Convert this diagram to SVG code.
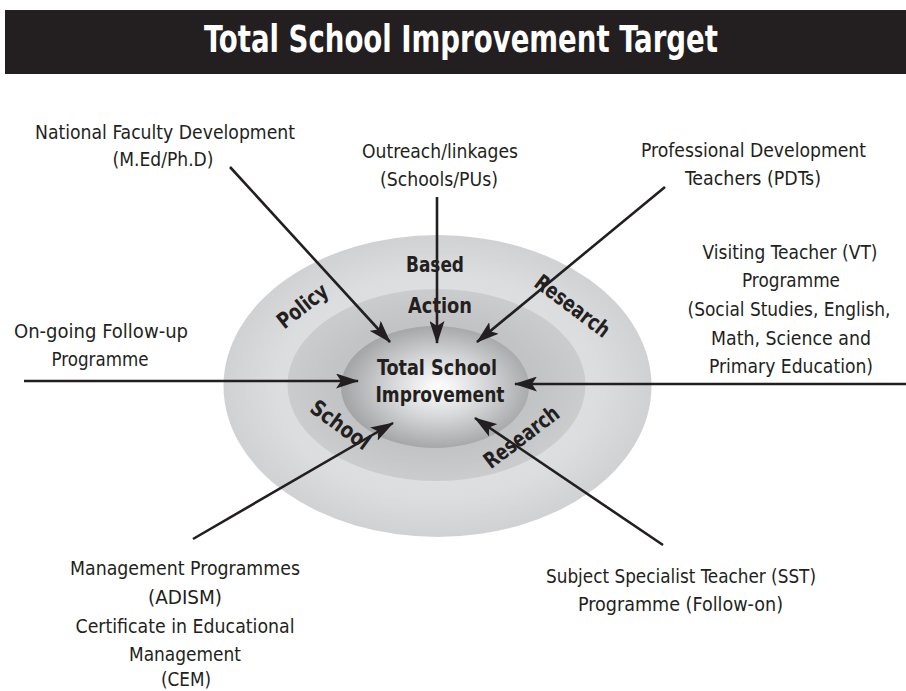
<svg xmlns="http://www.w3.org/2000/svg" width="906" height="691" viewBox="0 0 906 691">
<style>
.lbl{font-family:"Liberation Sans Narrow","DejaVu Sans Condensed","Liberation Sans",sans-serif;font-size:20px;fill:#231f20;text-anchor:middle}
.ring{font-family:"Liberation Sans Narrow","DejaVu Sans Condensed","Liberation Sans",sans-serif;font-weight:bold;font-size:22px;fill:#231f20;text-anchor:middle}
.title{font-family:"Liberation Sans Narrow","DejaVu Sans Condensed","Liberation Sans",sans-serif;font-weight:bold;font-size:37px;fill:#ffffff;text-anchor:middle}
.conn line{stroke:#231f20;stroke-width:2.6;marker-end:url(#ah)}
</style>
<defs>
<marker id="ah" markerUnits="userSpaceOnUse" viewBox="0 0 23 15" markerWidth="23" markerHeight="15" refX="22" refY="7.5" orient="auto">
<path d="M0,0 L23,7.5 L0,15 L5,7.5 z" fill="#231f20"/>
</marker>
<radialGradient id="gOuter" cx="0.5" cy="0.5" r="0.5">
<stop offset="0" stop-color="#e6e7e8"/>
<stop offset="0.75" stop-color="#dcdddf"/>
<stop offset="1" stop-color="#d0d1d3"/>
</radialGradient>
<radialGradient id="gMid" cx="0.5" cy="0.5" r="0.5">
<stop offset="0" stop-color="#b8b9bb"/>
<stop offset="0.7" stop-color="#c3c4c6"/>
<stop offset="1" stop-color="#cbccce"/>
</radialGradient>
<radialGradient id="gIn" cx="0.52" cy="0.5" r="0.55">
<stop offset="0" stop-color="#ffffff"/>
<stop offset="0.45" stop-color="#d6d7d8"/>
<stop offset="1" stop-color="#9d9ea0"/>
</radialGradient>
</defs>
<rect width="906" height="691" fill="#ffffff"/>
<g id="header">
<rect x="5" y="10" width="901" height="64" fill="#231f20"/>
<text class="title" x="461" y="52" textLength="514" lengthAdjust="spacingAndGlyphs">Total School Improvement Target</text>
</g>
<g id="target">
<ellipse cx="437.5" cy="386" rx="214" ry="151" fill="url(#gOuter)"/>
<ellipse cx="436.5" cy="385" rx="149" ry="96" fill="url(#gMid)"/>
<ellipse cx="435" cy="387" rx="94" ry="61" fill="url(#gIn)"/>
<text class="ring" x="435" y="272" textLength="58" lengthAdjust="spacingAndGlyphs">Based</text>
<text class="ring" x="440" y="313" textLength="64" lengthAdjust="spacingAndGlyphs">Action</text>
<text class="ring" transform="translate(307,312) rotate(-38)" textLength="58" lengthAdjust="spacingAndGlyphs">Policy</text>
<text class="ring" transform="translate(568,312) rotate(37)" textLength="88" lengthAdjust="spacingAndGlyphs">Research</text>
<text class="ring" transform="translate(526,443) rotate(-37)" textLength="88" lengthAdjust="spacingAndGlyphs">Research</text>
<text class="ring" transform="translate(336,431) rotate(36)" textLength="68" lengthAdjust="spacingAndGlyphs">School</text>
</g>
<g id="center">
<text class="ring" x="437" y="375" textLength="120" lengthAdjust="spacingAndGlyphs">Total School</text>
<text class="ring" x="440" y="402" textLength="129" lengthAdjust="spacingAndGlyphs">Improvement</text>
</g>
<g id="conn" class="conn">
<line x1="230" y1="167" x2="390" y2="342"/>
<line x1="437" y1="197" x2="437" y2="343"/>
<line x1="665" y1="187" x2="477" y2="342"/>
<line x1="24" y1="381" x2="358" y2="381"/>
<line x1="906" y1="384" x2="515" y2="384"/>
<line x1="193" y1="539" x2="393" y2="423"/>
<line x1="663" y1="545" x2="475" y2="418"/>
</g>
<g id="nfd">
<text class="lbl" x="165" y="139" textLength="260" lengthAdjust="spacingAndGlyphs">National Faculty Development</text>
<text class="lbl" x="163" y="166" textLength="101" lengthAdjust="spacingAndGlyphs">(M.Ed/Ph.D)</text>
</g>
<g id="outreach">
<text class="lbl" x="440" y="158" textLength="156" lengthAdjust="spacingAndGlyphs">Outreach/linkages</text>
<text class="lbl" x="439" y="186" textLength="118" lengthAdjust="spacingAndGlyphs">(Schools/PUs)</text>
</g>
<g id="pdt">
<text class="lbl" x="753.5" y="157" textLength="225" lengthAdjust="spacingAndGlyphs">Professional Development</text>
<text class="lbl" x="753" y="185" textLength="136" lengthAdjust="spacingAndGlyphs">Teachers (PDTs)</text>
</g>
<g id="vt">
<text class="lbl" x="790" y="259" textLength="175" lengthAdjust="spacingAndGlyphs">Visiting Teacher (VT)</text>
<text class="lbl" x="791" y="287" textLength="98" lengthAdjust="spacingAndGlyphs">Programme</text>
<text class="lbl" x="789" y="316" textLength="203" lengthAdjust="spacingAndGlyphs">(Social Studies, English,</text>
<text class="lbl" x="791" y="345" textLength="160" lengthAdjust="spacingAndGlyphs">Math, Science and</text>
<text class="lbl" x="791" y="373" textLength="164" lengthAdjust="spacingAndGlyphs">Primary Education)</text>
</g>
<g id="ongoing">
<text class="lbl" x="101" y="338" textLength="174" lengthAdjust="spacingAndGlyphs">On-going Follow-up</text>
<text class="lbl" x="100" y="366" textLength="97" lengthAdjust="spacingAndGlyphs">Programme</text>
</g>
<g id="mgmt">
<text class="lbl" x="185" y="575" textLength="230" lengthAdjust="spacingAndGlyphs">Management Programmes</text>
<text class="lbl" x="185" y="604" textLength="74" lengthAdjust="spacingAndGlyphs">(ADISM)</text>
<text class="lbl" x="185" y="633" textLength="219" lengthAdjust="spacingAndGlyphs">Certificate in Educational</text>
<text class="lbl" x="185" y="661" textLength="112" lengthAdjust="spacingAndGlyphs">Management</text>
<text class="lbl" x="186" y="686" textLength="50" lengthAdjust="spacingAndGlyphs">(CEM)</text>
</g>
<g id="sst">
<text class="lbl" x="681" y="583" textLength="270" lengthAdjust="spacingAndGlyphs">Subject Specialist Teacher (SST)</text>
<text class="lbl" x="680.5" y="611" textLength="205" lengthAdjust="spacingAndGlyphs">Programme (Follow-on)</text>
</g>
</svg>
